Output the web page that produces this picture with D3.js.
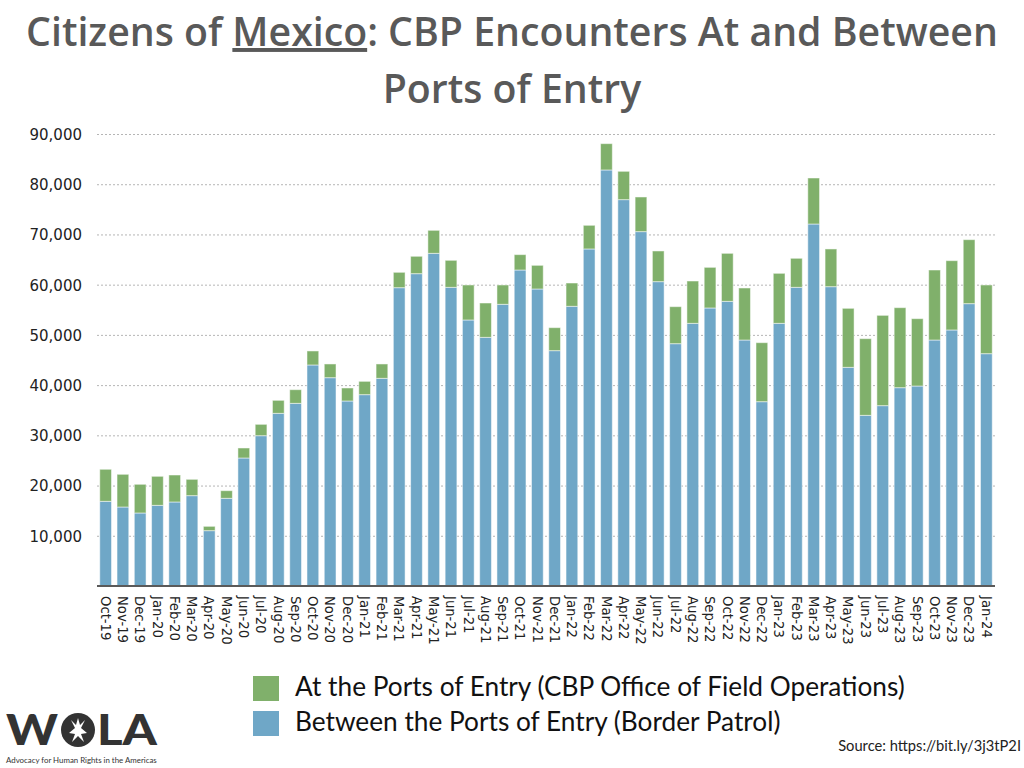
<!DOCTYPE html>
<html>
<head>
<meta charset="utf-8">
<script src="https://cdn.jsdelivr.net/npm/d3@7"></script>
<style>
  html, body { margin: 0; padding: 0; background: #fff; }
  svg { display: block; }
</style>
</head>
<body>
<svg id="chart" width="1024" height="768"></svg>
<script>
const months = ["Oct-19","Nov-19","Dec-19","Jan-20","Feb-20","Mar-20","Apr-20","May-20","Jun-20","Jul-20","Aug-20","Sep-20",
  "Oct-20","Nov-20","Dec-20","Jan-21","Feb-21","Mar-21","Apr-21","May-21","Jun-21","Jul-21","Aug-21","Sep-21",
  "Oct-21","Nov-21","Dec-21","Jan-22","Feb-22","Mar-22","Apr-22","May-22","Jun-22","Jul-22","Aug-22","Sep-22",
  "Oct-22","Nov-22","Dec-22","Jan-23","Feb-23","Mar-23","Apr-23","May-23","Jun-23","Jul-23","Aug-23","Sep-23",
  "Oct-23","Nov-23","Dec-23","Jan-24"];

// Between the Ports of Entry (Border Patrol)
const betweenPorts = [16860,15730,14540,16060,16730,17990,11020,17460,25490,29930,34380,36370,
  44010,41480,36840,38100,41350,59400,62190,66240,59470,52970,49510,56090,
  62920,59140,46860,55690,67110,82840,76930,70560,60600,48250,52300,55360,
  56680,48980,36700,52300,59470,72080,59600,43540,33980,35910,39490,39820,
  48980,50980,56220,46260];

// At the Ports of Entry (CBP Office of Field Operations)
const atPorts = [6380,6510,5710,5780,5370,3250,860,1520,1990,2260,2590,2720,
  2790,2730,2590,2650,2860,3060,3460,4580,5380,6970,6840,3850,
  3060,4710,4580,4640,4710,5240,5640,6900,6110,7370,8430,8090,
  9560,10360,11750,9960,5780,9160,7510,11750,15270,17980,15930,13410,
  13940,13800,12740,13680];

const yTicks = [10000,20000,30000,40000,50000,60000,70000,80000,90000];

const seriesNames = ["At the Ports of Entry (CBP Office of Field Operations)", "Between the Ports of Entry (Border Patrol)"];
const colors = { between: "#6fa7c7", at: "#80b06b" };

const svg = d3.select("#chart");

const x = d3.scaleBand().domain(months).range([97, 995]).paddingInner(0.32).paddingOuter(0.16);
const y = d3.scaleLinear().domain([0, 90000]).range([586, 134]);

// gridlines
svg.append("g").selectAll("line").data(yTicks).join("line")
  .attr("x1", 97).attr("x2", 995)
  .attr("y1", d => y(d) + 0.5).attr("y2", d => y(d) + 0.5)
  .attr("stroke", "#b5b5b5").attr("stroke-width", 1).attr("stroke-dasharray", "2,2");

// y labels
const yAxis = d3.axisLeft(y).tickValues(yTicks).tickSize(0).tickPadding(0).tickFormat(d3.format(","));
const gy = svg.append("g").attr("transform", "translate(82,0)").call(yAxis);
gy.select(".domain").remove();
gy.selectAll("text").attr("font-family", "DejaVu Sans").attr("font-size", 15).attr("fill", "#222").attr("dy", "0.36em");

// stacked data
const rows = months.map((m, i) => ({ month: m, between: betweenPorts[i], at: atPorts[i] }));
const stack = d3.stack().keys(["between", "at"])(rows);

const gBars = svg.append("g");
stack.forEach(layer => {
  gBars.append("g").selectAll("rect").data(layer).join("rect")
    .attr("x", d => x(d.data.month))
    .attr("width", x.bandwidth())
    .attr("y", d => y(d[1]))
    .attr("height", d => y(d[0]) - y(d[1]))
    .attr("fill", colors[layer.key])
    .attr("stroke", "rgba(255,255,255,0.5)")
    .attr("stroke-width", 1);
});

// baseline
svg.append("line").attr("x1", 97).attr("x2", 995).attr("y1", 586).attr("y2", 586)
  .attr("stroke", "#5a5a5a").attr("stroke-width", 2);

// x labels
const xAxis = d3.axisBottom(x).tickSize(0).tickPadding(0);
const gx = svg.append("g").attr("transform", "translate(0,596)").call(xAxis);
gx.select(".domain").remove();
gx.selectAll("text")
  .attr("font-family", "DejaVu Sans").attr("font-size", 13.2).attr("fill", "#222")
  .attr("transform", "rotate(90)")
  .attr("text-anchor", "start")
  .attr("x", 0).attr("y", 0).attr("dy", "0.36em");

// helper to fit text to a width
function fit(sel, width) {
  const w = sel.node().getComputedTextLength();
  const fs = parseFloat(sel.attr("font-size"));
  sel.attr("font-size", fs * width / w);
  return fs * width / w;
}

// title
const t1 = svg.append("text").attr("x", 512).attr("y", 46).attr("text-anchor", "middle")
  .attr("font-family", "Open Sans").attr("font-weight", 600).attr("font-size", 36).attr("fill", "#595959");
t1.append("tspan").text("Citizens of ");
t1.append("tspan").text("Mexico").style("text-decoration", "underline");
t1.append("tspan").text(": CBP Encounters At and Between");
const tfs = fit(t1, 972);
svg.append("text").attr("x", 512).attr("y", 103).attr("text-anchor", "middle")
  .attr("font-family", "Open Sans").attr("font-weight", 600).attr("font-size", tfs).attr("fill", "#595959")
  .text("Ports of Entry");

// legend
const legendColors = [colors.at, colors.between];
const lg = svg.append("g");
lg.selectAll("rect").data(seriesNames).join("rect")
  .attr("x", 253).attr("y", (d, i) => 676 + i * 35).attr("width", 26).attr("height", 25)
  .attr("fill", (d, i) => legendColors[i]);
const lt0 = lg.append("text").attr("x", 295).attr("y", 696).attr("font-family", "Lato").attr("font-size", 23).attr("fill", "#111").text(seriesNames[0]);
const lfs = fit(lt0, 610);
lg.append("text").attr("x", 295).attr("y", 731).attr("font-family", "Lato").attr("font-size", lfs).attr("fill", "#111").text(seriesNames[1]);

// source
const src = svg.append("text").attr("x", 1021).attr("y", 751).attr("text-anchor", "end")
  .attr("font-family", "Lato").attr("font-size", 14).attr("fill", "#222").text("Source: https://bit.ly/3j3tP2I");
fit(src, 183);

// logo
const logo = svg.append("g");
logo.append("text").attr("x", 6).attr("y", 745).attr("font-family", "Lato").attr("font-weight", 900)
  .attr("font-size", 42).attr("fill", "#333").attr("textLength", 52).attr("lengthAdjust", "spacingAndGlyphs").text("W");
const cx = 78, cy = 730;
logo.append("circle").attr("cx", cx).attr("cy", cy).attr("r", 17).attr("fill", "#333");
logo.append("path").attr("d", `M${cx-7},${cy-10} L${cx-3},${cy-2} L${cx-9},${cy+3} L${cx-3},${cy+4} L${cx-6},${cy+12} L${cx},${cy+6} L${cx+6},${cy+12} L${cx+3},${cy+4} L${cx+9},${cy+3} L${cx+3},${cy-2} L${cx+7},${cy-10} L${cx+2},${cy-5} L${cx},${cy-12} L${cx-2},${cy-5} Z`)
  .attr("fill", "#fff");
logo.append("text").attr("x", 97).attr("y", 745).attr("font-family", "Lato").attr("font-weight", 900)
  .attr("font-size", 42).attr("fill", "#333").attr("textLength", 60).attr("lengthAdjust", "spacingAndGlyphs").text("LA");
const sub = logo.append("text").attr("x", 6).attr("y", 763).attr("font-family", "Lato").attr("font-size", 9)
  .attr("fill", "#333").text("Advocacy for Human Rights in the Americas");
fit(sub, 151);
</script>
</body>
</html>
